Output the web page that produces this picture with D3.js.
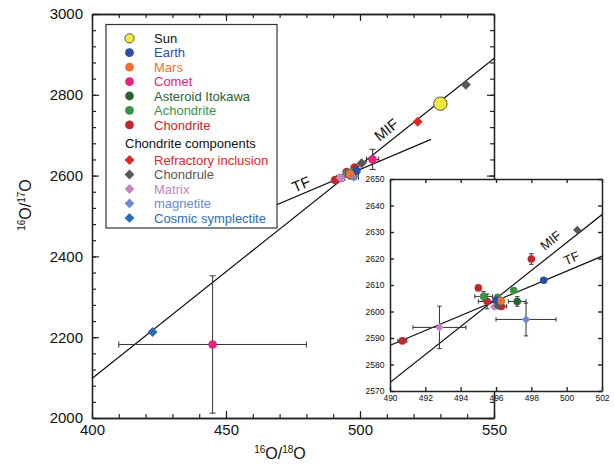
<!DOCTYPE html>
<meta charset="utf-8">
<script src="https://d3js.org/d3.v7.min.js"></script>
<style>
  body { margin: 0; background: #fff; }
</style>
<div id="chart"></div>
<script>
var FONT = "'Liberation Sans', Arial, sans-serif";

var categories = ["Sun", "Earth", "Mars", "Comet", "Asteroid Itokawa", "Achondrite", "Chondrite",
                  "Refractory inclusion", "Chondrule", "Matrix", "magnetite", "Cosmic symplectite"];

// each point: [16O/18O, 16O/17O, xErr, yErr]
var sun = [[530, 2778]];
var earth = [[496.0, 2604.3], [498.7, 2611.8]];
var mars = [[496.3, 2604.0]];
var comet = [[504.7, 2640, 2.3, 25], [445, 2182, 35, 170]];
var itokawa = [[497.2, 2603.8, 0.5, 1.8]];
var achondrite = [[495.3, 2605.7, 0.5, 1.8], [496.1, 2605.4], [497.0, 2607.9]];
var chondrite = [[490.7, 2588.9, 0.25, 0], [495.0, 2608.9], [495.5, 2603.8, 0.5, 2.8], [496.3, 2601.9, 0.3, 0], [498.0, 2619.8, 0, 2]];
var refractory = [[521.5, 2733]];
var chondrule = [[539.5, 2825], [500.6, 2630.8], [496.1, 2602.2]];
var matrix = [[492.8, 2594, 1.5, 8], [495.9, 2601.8]];
var magnetite = [[497.7, 2597, 1.7, 6.2]];
var symplectite = [[422.6, 2213]];

var seriesData = [sun, earth, mars, comet, itokawa, achondrite, chondrite, refractory, chondrule, matrix, magnetite, symplectite];

var mainXTicks = [400, 450, 500, 550];
var mainYTicks = [2000, 2200, 2400, 2600, 2800, 3000];
var insetXTicks = [490, 492, 494, 496, 498, 500, 502];
var insetYTicks = [2570, 2580, 2590, 2600, 2610, 2620, 2630, 2640, 2650];

// reference lines, endpoints
var mifLine = [[400, 2098], [550, 2890]];
var tfLine = [[460, 2503], [526.5, 2689.6]];

var colors = {
  "Sun": "#f2ea3a", "Earth": "#2a4ea5", "Mars": "#ef7130", "Comet": "#e6237f",
  "Asteroid Itokawa": "#2a6135", "Achondrite": "#3b9245", "Chondrite": "#c1272d",
  "Refractory inclusion": "#e1262a", "Chondrule": "#585858", "Matrix": "#c187c0",
  "magnetite": "#6b8ad0", "Cosmic symplectite": "#2c6cb7"
};
var textColors = Object.assign({}, colors, {"Sun": "#111"});
var drawOrder = ["Chondrite", "Achondrite", "Asteroid Itokawa", "Matrix", "Chondrule", "magnetite",
                 "Earth", "Mars", "Comet", "Refractory inclusion", "Cosmic symplectite", "Sun"];

var points = [];
drawOrder.forEach(function(c) {
  seriesData[categories.indexOf(c)].forEach(function(p) {
    points.push({cat: c, x: p[0], y: p[1], ex: p[2] || 0, ey: p[3] || 0});
  });
});

function isDiamond(c) { return categories.indexOf(c) >= 7; }

var svg = d3.select("#chart").append("svg")
  .attr("width", 614).attr("height", 472)
  .style("font-family", FONT);

svg.append("rect").attr("width", 614).attr("height", 472).attr("fill", "#fff");

var x = d3.scaleLinear().domain([400, 550]).range([92, 494]);
var y = d3.scaleLinear().domain([2000, 3000]).range([418, 14]);
var xi = d3.scaleLinear().domain([490, 502]).range([390, 602]);
var yi = d3.scaleLinear().domain([2570, 2650]).range([391, 179]);

function frame(g, xs, ys, o) {
  var r = xs.range(), b = ys.range();
  var sides = [
    {axis: d3.axisBottom, s: xs, t: "translate(0," + b[0] + ")", maj: o.xMajor, min: o.xMinor, lab: true, pad: o.padX},
    {axis: d3.axisTop, s: xs, t: "translate(0," + b[1] + ")", maj: o.xMajor, min: o.xMinor, lab: false},
    {axis: d3.axisLeft, s: ys, t: "translate(" + r[0] + ",0)", maj: o.yMajor, min: o.yMinor, lab: true, pad: o.padY},
    {axis: d3.axisRight, s: ys, t: "translate(" + r[1] + ",0)", maj: o.yMajor, min: o.yMinor, lab: false}
  ];
  sides.forEach(function(sd) {
    if (sd.min) {
      g.append("g").attr("transform", sd.t)
        .call(sd.axis(sd.s).tickValues(sd.min).tickSize(-o.minor).tickSizeOuter(0).tickFormat(""))
        .attr("color", "#222");
    }
    var a = g.append("g").attr("transform", sd.t)
      .call(sd.axis(sd.s).tickValues(sd.maj).tickSize(-o.major).tickSizeOuter(0)
        .tickPadding(sd.pad || 0).tickFormat(sd.lab ? d3.format("d") : ""))
      .attr("color", "#222")
      .attr("font-family", FONT)
      .attr("font-size", o.fontSize);
    a.selectAll("text").attr("fill", "#111");
  });
  g.selectAll("path.domain").attr("stroke-width", o.sw);
  g.selectAll(".tick line").attr("stroke-width", o.sw * 0.9);
}

function drawLines(g, xs, ys) {
  var line = d3.line().x(function(d) { return xs(d[0]); }).y(function(d) { return ys(d[1]); });
  [mifLine, tfLine].forEach(function(l) {
    g.append("path").attr("d", line(l)).attr("fill", "none").attr("stroke", "#111").attr("stroke-width", 1.2);
  });
}

function lineLabel(g, xs, ys, l, xv, txt, size, off) {
  var f = (xv - l[0][0]) / (l[1][0] - l[0][0]);
  var yv = l[0][1] + f * (l[1][1] - l[0][1]);
  var ang = Math.atan2(ys(l[1][1]) - ys(l[0][1]), xs(l[1][0]) - xs(l[0][0])) * 180 / Math.PI;
  g.append("text")
    .attr("transform", "translate(" + xs(xv) + "," + ys(yv) + ") rotate(" + ang + ")")
    .attr("y", off)
    .attr("text-anchor", "middle")
    .attr("font-size", size)
    .attr("fill", "#111")
    .text(txt);
}

function drawPoints(g, xs, ys, o) {
  var pts = points.filter(function(d) {
    var dx = xs.domain(), dy = ys.domain();
    return d.x >= dx[0] && d.x <= dx[1] && d.y >= dy[0] && d.y <= dy[1];
  });
  var eb = g.append("g").attr("stroke", "#333").attr("stroke-width", 1);
  pts.forEach(function(d) {
    var px = xs(d.x), py = ys(d.y);
    if (d.ex) {
      var a = xs(d.x - d.ex), b = xs(d.x + d.ex);
      eb.append("line").attr("x1", a).attr("x2", b).attr("y1", py).attr("y2", py);
      eb.append("line").attr("x1", a).attr("x2", a).attr("y1", py - o.cap).attr("y2", py + o.cap);
      eb.append("line").attr("x1", b).attr("x2", b).attr("y1", py - o.cap).attr("y2", py + o.cap);
    }
    if (d.ey) {
      var c = ys(d.y - d.ey), e = ys(d.y + d.ey);
      eb.append("line").attr("x1", px).attr("x2", px).attr("y1", c).attr("y2", e);
      eb.append("line").attr("x1", px - o.cap).attr("x2", px + o.cap).attr("y1", c).attr("y2", c);
      eb.append("line").attr("x1", px - o.cap).attr("x2", px + o.cap).attr("y1", e).attr("y2", e);
    }
  });
  pts.forEach(function(d) {
    var px = xs(d.x), py = ys(d.y);
    if (isDiamond(d.cat)) {
      g.append("path")
        .attr("d", d3.symbol(d3.symbolSquare, o.dSize)())
        .attr("transform", "translate(" + px + "," + py + ") rotate(45)")
        .attr("fill", colors[d.cat]);
    } else {
      var big = d.cat === "Sun";
      g.append("circle").attr("cx", px).attr("cy", py)
        .attr("r", big ? o.sunR : o.r)
        .attr("fill", colors[d.cat])
        .attr("stroke", big ? "#333" : "none").attr("stroke-width", 0.8);
    }
  });
}

// ---- main plot
var main = svg.append("g");
frame(main, x, y, {
  xMajor: mainXTicks, xMinor: d3.range(400, 551, 10),
  yMajor: mainYTicks, yMinor: d3.range(2000, 3001, 40),
  major: 7, minor: 4, fontSize: 15, padX: 6, padY: 9, sw: 1.3
});
drawLines(main, x, y);
lineLabel(main, x, y, mifLine, 512.4, "MIF", 15, -6);
lineLabel(main, x, y, tfLine, 479.4, "TF", 15, -4);
drawPoints(main, x, y, {r: 4.3, sunR: 6.7, dSize: 50, cap: 3});

// axis titles
var xt = svg.append("text").attr("x", 280).attr("y", 459).attr("text-anchor", "middle")
  .attr("font-size", 16).attr("fill", "#111");
xt.append("tspan").attr("font-size", 10).attr("dy", -6).text("16");
xt.append("tspan").attr("dy", 6).text("O/");
xt.append("tspan").attr("font-size", 10).attr("dy", -6).text("18");
xt.append("tspan").attr("dy", 6).text("O");

var yt = svg.append("text").attr("transform", "translate(31,205) rotate(-90)").attr("text-anchor", "middle")
  .attr("font-size", 16).attr("fill", "#111");
yt.append("tspan").attr("font-size", 10).attr("dy", -6).text("16");
yt.append("tspan").attr("dy", 6).text("O/");
yt.append("tspan").attr("font-size", 10).attr("dy", -6).text("17");
yt.append("tspan").attr("dy", 6).text("O");

// ---- legend
var leg = svg.append("g");
leg.append("rect").attr("x", 106).attr("y", 24.5).attr("width", 171).attr("height", 203.5)
  .attr("fill", "#fff").attr("stroke", "#333").attr("stroke-width", 1.2);
var rowY = [38.3, 52.7, 67.1, 81.6, 96, 110.4, 124.9, 160, 174.5, 189, 203.4, 217.9];
categories.forEach(function(c, i) {
  var ry = rowY[i];
  if (isDiamond(c)) {
    leg.append("path").attr("d", d3.symbol(d3.symbolSquare, 48)())
      .attr("transform", "translate(129.5," + ry + ") rotate(45)").attr("fill", colors[c]);
  } else {
    leg.append("circle").attr("cx", 129.5).attr("cy", ry).attr("r", c === "Sun" ? 4.6 : 4.4)
      .attr("fill", colors[c]).attr("stroke", c === "Sun" ? "#333" : "none").attr("stroke-width", 0.8);
  }
  leg.append("text").attr("x", 154).attr("y", ry).attr("dy", "0.36em")
    .attr("font-size", 13).attr("fill", textColors[c]).text(c);
});
leg.append("text").attr("x", 125).attr("y", 143.5).attr("dy", "0.36em")
  .attr("font-size", 13).attr("fill", "#111").text("Chondrite components");

// ---- inset
var inset = svg.append("g");
inset.append("rect").attr("x", 390).attr("y", 179).attr("width", 212).attr("height", 212).attr("fill", "#fff");
svg.append("clipPath").attr("id", "insetClip").append("rect")
  .attr("x", 390).attr("y", 179).attr("width", 212).attr("height", 212);
var insetBody = inset.append("g").attr("clip-path", "url(#insetClip)");
drawLines(insetBody, xi, yi);
lineLabel(insetBody, xi, yi, mifLine, 499.5, "MIF", 13, -7);
lineLabel(insetBody, xi, yi, tfLine, 500.5, "TF", 13, -5.5);
drawPoints(insetBody, xi, yi, {r: 3.8, sunR: 5, dSize: 36, cap: 2.2});
frame(inset, xi, yi, {
  xMajor: insetXTicks, yMajor: insetYTicks,
  major: 4, minor: 0, fontSize: 8.5, padX: 4, padY: 5.5, sw: 1.5
});
</script>
